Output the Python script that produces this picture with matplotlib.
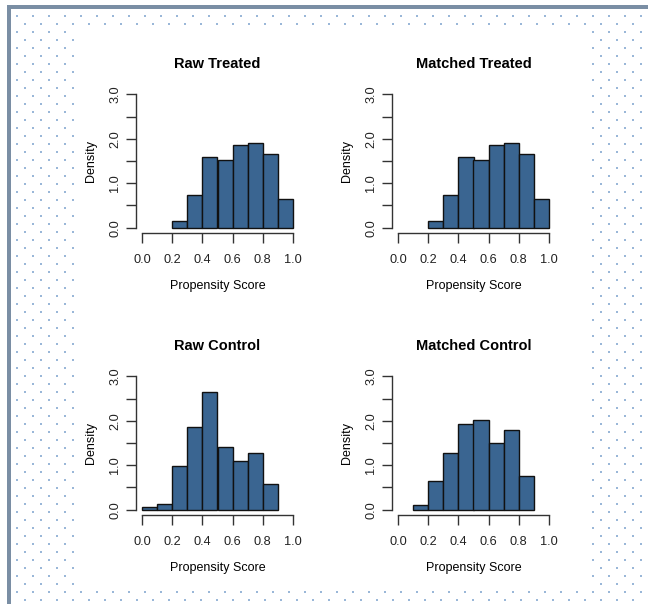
import numpy as np
import matplotlib
matplotlib.use("Agg")
import matplotlib.pyplot as plt
from matplotlib.patches import Rectangle

plt.rcParams['font.family'] = ['Liberation Sans', 'DejaVu Sans']

bin_edges = [0.0, 0.1, 0.2, 0.3, 0.4, 0.5, 0.6, 0.7, 0.8, 0.9, 1.0]
raw_treated = [0.0, 0.0, 0.15, 0.73, 1.60, 1.52, 1.85, 1.90, 1.65, 0.65]
matched_treated = [0.0, 0.0, 0.15, 0.73, 1.60, 1.52, 1.85, 1.90, 1.65, 0.65]
raw_control = [0.05, 0.12, 0.98, 1.85, 2.65, 1.40, 1.10, 1.27, 0.57, 0.0]
matched_control = [0.0, 0.10, 0.65, 1.27, 1.92, 2.02, 1.50, 1.80, 0.75, 0.0]
titles = ["Raw Treated", "Matched Treated", "Raw Control", "Matched Control"]
series = [raw_treated, matched_treated, raw_control, matched_control]
x_ticks = [0.0, 0.2, 0.4, 0.6, 0.8, 1.0]
y_ticks = [0.0, 0.5, 1.0, 1.5, 2.0, 2.5, 3.0]
y_labels = ["0.0", "", "1.0", "", "2.0", "", "3.0"]

W, H = 648, 604
fig = plt.figure(figsize=(W / 100, H / 100), dpi=100)
fig.patch.set_facecolor("white")

# background decoration (page frame with dotted pattern)
bg = fig.add_axes([0, 0, 1, 1])
bg.set_xlim(0, W)
bg.set_ylim(H, 0)
bg.axis("off")
xs, ys = [], []
for i, yy in enumerate(np.arange(16, 604, 8)):
    off = 17 if i % 2 == 0 else 25
    for xx in np.arange(off, 648, 16):
        if 74 < xx < 590 and 28 < yy < 588:
            continue
        xs.append(xx)
        ys.append(yy)
bg.scatter(xs, ys, s=1.8, marker="s", color="#9ab7d8", linewidths=0)
bg.add_patch(Rectangle((7, 5), 641, 3.5, color="#7a8ea4", lw=0))
bg.add_patch(Rectangle((7, 5), 3.5, 599, color="#7a8ea4", lw=0))

def px_axes(x0, y0, x1, y1):
    return fig.add_axes([x0 / W, 1 - y1 / H, (x1 - x0) / W, (y1 - y0) / H])

positions = [(136, 89, 299, 233), (392, 89, 555, 233),
             (136, 371, 299, 515), (392, 371, 555, 515)]

for (x0, y0, x1, y1), title, vals in zip(positions, titles, series):
    ax = px_axes(x0, y0, x1, y1)
    ax.patch.set_alpha(0)
    left = [e for e, v in zip(bin_edges[:-1], vals) if v > 0]
    heights = [v for v in vals if v > 0]
    ax.bar(left, heights, width=0.1, align="edge", color="#3a6591",
           edgecolor="#111111", linewidth=1.0)
    ax.set_xlim(-0.04, 1.04)
    ax.set_ylim(-0.12, 3.12)
    for s in ["top", "right"]:
        ax.spines[s].set_visible(False)
    ax.spines["left"].set_bounds(0, 3)
    ax.spines["bottom"].set_bounds(0, 1)
    for s in ["left", "bottom"]:
        ax.spines[s].set_color("#333333")
        ax.spines[s].set_linewidth(1.0)
    ax.set_xticks(x_ticks)
    ax.set_xticklabels([f"{t:.1f}" for t in x_ticks])
    ax.set_yticks(y_ticks)
    ax.set_yticklabels(y_labels, rotation=90, va="center")
    ax.tick_params(axis="both", length=7, width=1.0, color="#333333",
                   labelsize=9.2, labelcolor="#222222")
    ax.tick_params(axis="x", pad=8)
    ax.tick_params(axis="y", pad=3.5)
    ax.set_title(title, fontsize=10.5, fontweight="bold", pad=15)
    ax.set_xlabel("Propensity Score", fontsize=9, labelpad=10)
    ax.set_ylabel("Density", fontsize=9, labelpad=9)

fig.savefig("out.png", dpi=100)
